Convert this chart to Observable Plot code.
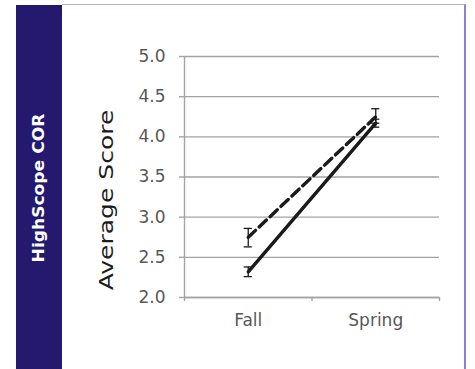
<!DOCTYPE html>
<html>
<head>
<meta charset="utf-8">
<script src="https://cdn.jsdelivr.net/npm/d3@7"></script>
<script src="https://cdn.jsdelivr.net/npm/@observablehq/plot@0.6"></script>
<style>
  html, body { margin: 0; padding: 0; background: #fff; }
  #wrap { position: relative; width: 475px; height: 369px; overflow: hidden; background: #fff; }
  .band { position: absolute; left: 16px; top: 5px; width: 46px; height: 364px; background: #24196e; }
  .frame { position: absolute; left: 62px; top: 4px; width: 404px; height: 370px;
           border-top: 1.5px solid #b5b0da; border-right: 2px solid #8b83c9; box-sizing: border-box; }
  #chart { position: absolute; left: 0; top: 0; }
  .rot { position: absolute; white-space: nowrap; transform-origin: center center; }
  .side { left: 39px; top: 188px; color: #fff; font: bold 15px "DejaVu Sans", sans-serif;
          transform: translate(-50%, -50%) rotate(-90deg) scaleX(1.14); }
  .ylab { left: 106px; top: 200px; color: #1c1c1c; font: 20px "DejaVu Sans", sans-serif;
          transform: translate(-50%, -50%) rotate(-90deg) scaleX(1.25); }
</style>
</head>
<body>
<div id="wrap">
  <div class="band"></div>
  <div class="frame"></div>
  <div id="chart"></div>
  <div class="rot side">HighScope COR</div>
  <div class="rot ylab">Average Score</div>
</div>
<script>
// Assessment periods (x categories)
const seasons = ["Fall", "Spring"];

// Solid series: mean and error-bar bounds
const solidMean  = [2.32, 4.17];
const solidLow   = [2.26, 4.12];
const solidHigh  = [2.38, 4.22];

// Dashed series: mean and error-bar bounds
const dashedMean = [2.75, 4.25];
const dashedLow  = [2.63, 4.17];
const dashedHigh = [2.86, 4.35];

// Y axis tick values
const yTicks = [2.0, 2.5, 3.0, 3.5, 4.0, 4.5, 5.0];

// Each category sits at the centre of its unit slot on a 0..2 linear x scale
const rows = (mean, lo, hi) => seasons.map((s, i) => ({season: s, pos: i + 0.5, mean: mean[i], lo: lo[i], hi: hi[i]}));
const solid = rows(solidMean, solidLow, solidHigh);
const dashed = rows(dashedMean, dashedLow, dashedHigh);
const both = solid.concat(dashed);

const capHalf = 0.032;
const gridColor = "#a3a3a3";
const ink = "#1a1a1a";

const chart = Plot.plot({
  width: 475,
  height: 369,
  marginLeft: 184,
  marginRight: 36,
  marginTop: 56,
  marginBottom: 72,
  style: {background: "transparent", fontFamily: "DejaVu Sans, sans-serif", overflow: "visible"},
  x: {domain: [0, 2]},
  y: {domain: [2, 5]},
  marks: [
    Plot.gridY(yTicks, {stroke: gridColor, strokeOpacity: 1, strokeWidth: 1.4}),
    // y tick marks
    Plot.axisY({ticks: yTicks, tickSize: 5, tickFormat: () => "", stroke: gridColor, strokeWidth: 1.4, label: null}),
    // y tick labels
    Plot.axisY({ticks: yTicks, tickSize: 0, tickPadding: 19, tickFormat: d3.format(".1f"),
                fontSize: 17, color: "#575757", label: null}),
    Plot.ruleX([0], {stroke: gridColor, strokeWidth: 1.4}),
    Plot.ruleY([2], {stroke: gridColor, strokeWidth: 1.4}),
    // x boundary ticks
    Plot.axisX({ticks: [0, 1, 2], tickSize: 4, tickFormat: () => "", stroke: gridColor, strokeWidth: 1.4, label: null}),
    // x category labels
    Plot.axisX({ticks: [0.5, 1.5], tickSize: 0, tickPadding: 16, tickFormat: d => seasons[Math.floor(d)],
                fontSize: 17, color: "#575757", label: null}),
    // error bars
    Plot.ruleX(both, {x: "pos", y1: "lo", y2: "hi", stroke: ink, strokeWidth: 1.3}),
    Plot.ruleY(both, {y: "lo", x1: d => d.pos - capHalf, x2: d => d.pos + capHalf, stroke: ink, strokeWidth: 1.3}),
    Plot.ruleY(both, {y: "hi", x1: d => d.pos - capHalf, x2: d => d.pos + capHalf, stroke: ink, strokeWidth: 1.3}),
    // series lines
    Plot.line(dashed, {x: "pos", y: "mean", stroke: ink, strokeWidth: 3.4, strokeDasharray: "10,5"}),
    Plot.line(solid, {x: "pos", y: "mean", stroke: ink, strokeWidth: 3.4})
  ]
});
document.getElementById("chart").appendChild(chart);
</script>
</body>
</html>
